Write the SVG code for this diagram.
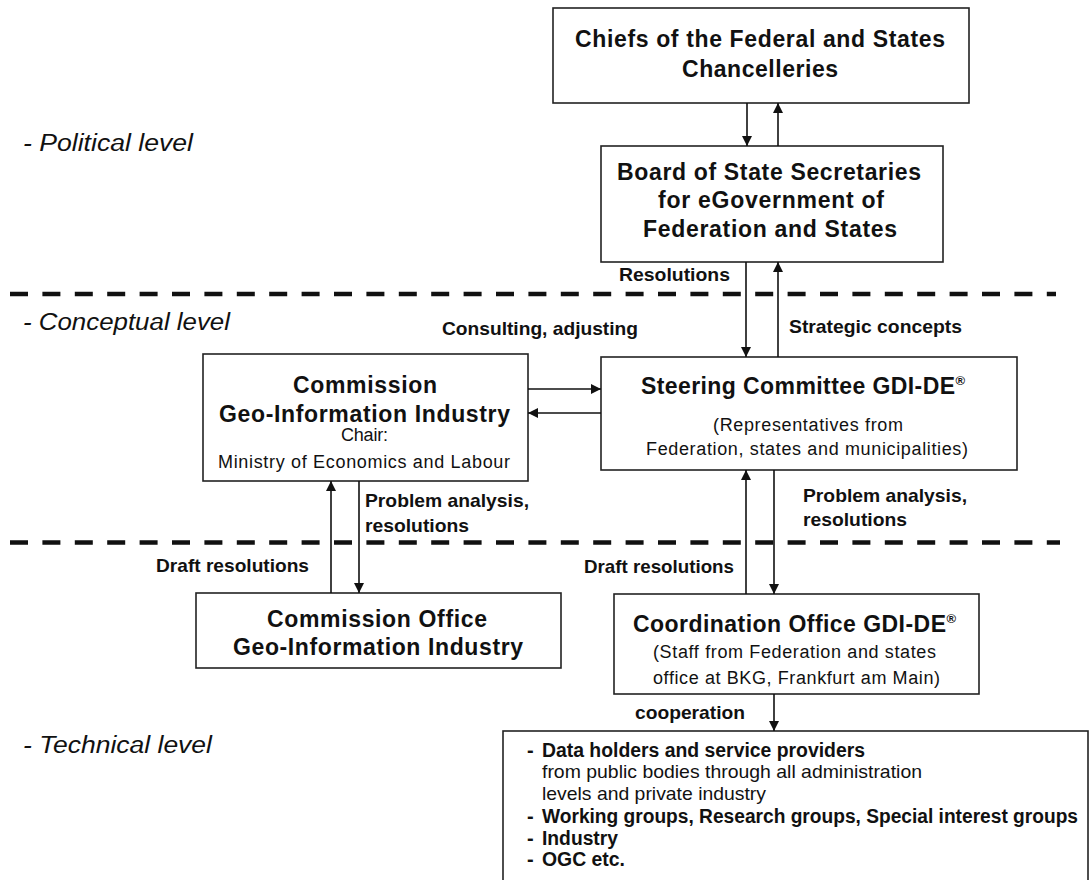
<svg xmlns="http://www.w3.org/2000/svg" width="1090" height="880" viewBox="0 0 1090 880">
<style>
.box{fill:#fff;stroke:#222;stroke-width:1.6}
.t{font-family:"Liberation Sans",Arial,sans-serif;font-weight:bold;fill:#111;font-size:23px}
.s{font-family:"Liberation Sans",Arial,sans-serif;fill:#111;font-size:18px}
.lbl{font-family:"Liberation Sans",Arial,sans-serif;font-weight:bold;font-size:19px;fill:#111}
.li{font-family:"Liberation Sans",Arial,sans-serif;font-weight:bold;font-size:20px;fill:#111}
.lr{font-family:"Liberation Sans",Arial,sans-serif;font-size:19px;fill:#111}
.lvl{font-family:"Liberation Sans",Arial,sans-serif;font-style:italic;font-size:23px;fill:#111}
.dash{stroke:#111;stroke-width:4.5;stroke-dasharray:18 14.4;fill:none}
.c{stroke:#111;stroke-width:1.6;fill:none;marker-end:url(#ah)}
</style>
<defs>
<marker id="ah" viewBox="0 0 10 10" refX="10" refY="5" markerUnits="userSpaceOnUse" markerWidth="11" markerHeight="10" orient="auto">
<path d="M0,0 L10,5 L0,10 z" fill="#111"/>
</marker>
</defs>
<rect width="1090" height="880" fill="#fff"/>

<g id="levels">
<line class="dash" x1="10" y1="294" x2="1056" y2="294"/>
<line class="dash" x1="10" y1="542.5" x2="1060" y2="542.5"/>
<text class="lvl" x="23" y="151" textLength="170" lengthAdjust="spacingAndGlyphs">- Political level</text>
<text class="lvl" x="23" y="330" textLength="207" lengthAdjust="spacingAndGlyphs">- Conceptual level</text>
<text class="lvl" x="23" y="753" textLength="189" lengthAdjust="spacingAndGlyphs">- Technical level</text>
</g>

<g id="chiefs">
<rect class="box" x="553" y="8" width="416" height="95"/>
<text class="t" x="575" y="47" textLength="370" lengthAdjust="spacing">Chiefs of the Federal and States</text>
<text class="t" x="682" y="77" textLength="156" lengthAdjust="spacing">Chancelleries</text>
</g>

<g id="board">
<rect class="box" x="601" y="146" width="342" height="116"/>
<text class="t" x="617" y="180" textLength="304" lengthAdjust="spacing">Board of State Secretaries</text>
<text class="t" x="658" y="208" textLength="226" lengthAdjust="spacing">for eGovernment of</text>
<text class="t" x="643" y="237" textLength="254" lengthAdjust="spacing">Federation and States</text>
</g>

<g id="commission">
<rect class="box" x="203" y="354" width="325" height="127"/>
<text class="t" x="293" y="393" textLength="144" lengthAdjust="spacing">Commission</text>
<text class="t" x="219" y="422" textLength="291" lengthAdjust="spacing">Geo-Information Industry</text>
<text class="s" x="341" y="441" textLength="47" lengthAdjust="spacing">Chair:</text>
<text class="s" x="218" y="468" textLength="292" lengthAdjust="spacing">Ministry of Economics and Labour</text>
</g>

<g id="steering">
<rect class="box" x="601" y="357" width="416" height="113"/>
<text class="t" x="641" y="394"><tspan textLength="314" lengthAdjust="spacing">Steering Committee GDI-DE</tspan><tspan font-size="13" dy="-9">®</tspan></text>
<text class="s" x="713" y="431" textLength="190" lengthAdjust="spacing">(Representatives from</text>
<text class="s" x="646" y="455" textLength="322" lengthAdjust="spacing">Federation, states and municipalities)</text>
</g>

<g id="commission-office">
<rect class="box" x="196" y="593" width="365" height="75"/>
<text class="t" x="267" y="627" textLength="220" lengthAdjust="spacing">Commission Office</text>
<text class="t" x="233" y="655" textLength="290" lengthAdjust="spacing">Geo-Information Industry</text>
</g>

<g id="coordination">
<rect class="box" x="614" y="594" width="365" height="100"/>
<text class="t" x="633" y="632"><tspan textLength="313" lengthAdjust="spacing">Coordination Office GDI-DE</tspan><tspan font-size="13" dy="-9">®</tspan></text>
<text class="s" x="653" y="658" textLength="283" lengthAdjust="spacing">(Staff from Federation and states</text>
<text class="s" x="653" y="684" textLength="287" lengthAdjust="spacing">office at BKG, Frankfurt am Main)</text>
</g>

<g id="stakeholders">
<rect class="box" x="503" y="731" width="585" height="160"/>
<text class="li" x="527" y="757">-</text>
<text class="li" x="542" y="757" textLength="323" lengthAdjust="spacingAndGlyphs">Data holders and service providers</text>
<text class="lr" x="542" y="778" textLength="380" lengthAdjust="spacingAndGlyphs">from public bodies through all administration</text>
<text class="lr" x="542" y="800" textLength="224" lengthAdjust="spacingAndGlyphs">levels and private industry</text>
<text class="li" x="527" y="823">-</text>
<text class="li" x="542" y="823" textLength="536" lengthAdjust="spacingAndGlyphs">Working groups, Research groups, Special interest groups</text>
<text class="li" x="527" y="845">-</text>
<text class="li" x="542" y="845" textLength="76" lengthAdjust="spacingAndGlyphs">Industry</text>
<text class="li" x="527" y="866">-</text>
<text class="li" x="542" y="866" textLength="83" lengthAdjust="spacingAndGlyphs">OGC etc.</text>
</g>

<g id="connectors">
<line class="c" x1="747" y1="103" x2="747" y2="146"/>
<line class="c" x1="778" y1="146" x2="778" y2="103"/>
<line class="c" x1="746" y1="262" x2="746" y2="357"/>
<line class="c" x1="778" y1="357" x2="778" y2="262"/>
<line class="c" x1="528" y1="389" x2="601" y2="389"/>
<line class="c" x1="601" y1="413" x2="528" y2="413"/>
<line class="c" x1="331" y1="593" x2="331" y2="481"/>
<line class="c" x1="359" y1="481" x2="359" y2="593"/>
<line class="c" x1="746" y1="594" x2="746" y2="470"/>
<line class="c" x1="774" y1="470" x2="774" y2="594"/>
<line class="c" x1="774" y1="694" x2="774" y2="731"/>
<text class="lbl" x="619" y="281" textLength="111" lengthAdjust="spacingAndGlyphs">Resolutions</text>
<text class="lbl" x="442" y="335" textLength="196" lengthAdjust="spacingAndGlyphs">Consulting, adjusting</text>
<text class="lbl" x="789" y="333" textLength="173" lengthAdjust="spacingAndGlyphs">Strategic concepts</text>
<text class="lbl" x="365" y="507" textLength="164" lengthAdjust="spacingAndGlyphs">Problem analysis,</text>
<text class="lbl" x="365" y="532" textLength="104" lengthAdjust="spacingAndGlyphs">resolutions</text>
<text class="lbl" x="803" y="502" textLength="164" lengthAdjust="spacingAndGlyphs">Problem analysis,</text>
<text class="lbl" x="803" y="526" textLength="104" lengthAdjust="spacingAndGlyphs">resolutions</text>
<text class="lbl" x="156" y="572" textLength="153" lengthAdjust="spacingAndGlyphs">Draft resolutions</text>
<text class="lbl" x="584" y="573" textLength="150" lengthAdjust="spacingAndGlyphs">Draft resolutions</text>
<text class="lbl" x="635" y="719" textLength="110" lengthAdjust="spacingAndGlyphs">cooperation</text>
</g>
</svg>
